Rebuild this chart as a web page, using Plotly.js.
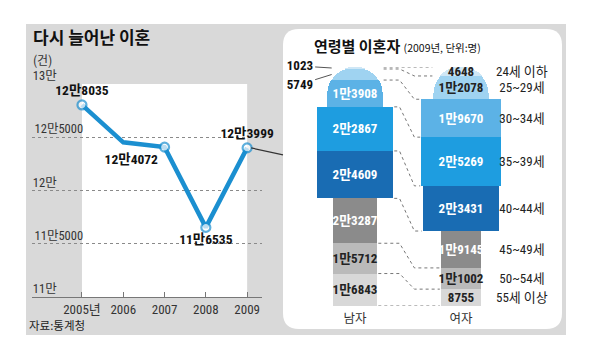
<!DOCTYPE html>
<html>
<head>
<meta charset="utf-8">
<script src="https://cdn.plot.ly/plotly-3.0.1.min.js"></script>
<style>
html,body{margin:0;padding:0;background:#fff;}
#chart{width:594px;height:359px;}
#chart text{font-stretch:75%;}
</style>
</head>
<body>
<div id="chart"></div>
<script>
// ---- data ----
const years = [2005, 2006, 2007, 2008, 2009];
const yearLabels = ['2005년', '2006', '2007', '2008', '2009'];
const divorces = [128035, 124524, 124072, 116535, 123999];
const labelledPoints = [true, false, true, true, true];
const yTickVals = [110000, 115000, 120000, 125000, 130000];
const yTickText = ['11만', '11만5000', '12만', '12만5000', '13만'];

const ageGroups = ['24세 이하', '25~29세', '30~34세', '35~39세', '40~44세', '45~49세', '50~54세', '55세 이상'];
const male   = [1023, 5749, 13908, 22867, 24609, 23287, 15712, 16843];
const female = [4648, 12078, 19670, 25269, 23431, 19145, 11002, 8755];
const sexes = ['남자', '여자'];

// ---- styles ----
const W = 594, H = 359;
const px = x => x / W, py = y => 1 - y / H;
const NARROW = 'Roboto, "Noto Sans CJK KR", sans-serif';
const KR = '"Noto Sans CJK KR", "Noto Sans", sans-serif';
const blue = '#1b8fd0';
const groupColors = ['#cfe7f6', '#9fd3f1', '#5cb2e6', '#1e9de0', '#196cb3', '#8b8b8b', '#bababa', '#d8d8d8'];
const groupText   = ['#222', '#222', '#fff', '#fff', '#fff', '#fff', '#222', '#222'];
const maleW   = [0.52, 0.52, 0.52, 0.72, 0.72, 0.42, 0.42, 0.42];
const femaleW = [0.52, 0.52, 0.75, 0.75, 0.72, 0.38, 0.38, 0.38];
const maleOutside = [true, true, false, false, false, false, false, false];

const fmt = v => (v >= 10000 ? Math.floor(v / 10000) + '만' + (v % 10000) : String(v));

// ---- left line chart ----
const traces = [];
traces.push({
  type: 'scatter', mode: 'lines+markers+text', x: years, y: divorces,
  xaxis: 'x', yaxis: 'y', cliponaxis: false, hoverinfo: 'none',
  line: {color: blue, width: 4.5},
  marker: {size: labelledPoints.map(b => b ? 9 : 0), color: '#fff', line: {color: blue, width: 2.2}},
  text: divorces.map((v, i) => labelledPoints[i] ? fmt(v) : ''),
  textposition: ['top center', 'top center', 'bottom left', 'bottom center', 'top center'],
  textfont: {family: NARROW, size: 13.5, color: '#111', weight: 'bold'}
});

// ---- right stacked figures ----
const totalM = male.reduce((a, b) => a + b, 0);
const totalF = female.reduce((a, b) => a + b, 0);
for (let g = ageGroups.length - 1; g >= 0; g--) {
  traces.push({
    type: 'bar', x: [0, 1], y: [male[g], female[g]], width: [maleW[g], femaleW[g]],
    xaxis: 'x2', yaxis: 'y2', name: ageGroups[g], hoverinfo: 'none',
    marker: {color: groupColors[g], line: {width: 0}, cornerradius: g === ageGroups.length - 1 ? 26 : undefined},
    text: [maleOutside[g] ? '' : fmt(male[g]), fmt(female[g])],
    textposition: 'inside', insidetextanchor: 'middle', textangle: 0, constraintext: 'none',
    insidetextfont: {family: NARROW, size: 13, color: groupText[g], weight: 'bold'}
  });
}

// cumulative boundaries from top
const cumM = [totalM], cumF = [totalF];
for (let g = 0; g < ageGroups.length; g++) {
  cumM.push(cumM[g] - male[g]);
  cumF.push(cumF[g] - female[g]);
}
const lx = [], ly = [];
for (let i = 0; i <= ageGroups.length; i++) {
  const wm = Math.max(maleW[Math.max(i - 1, 0)], maleW[Math.min(i, 7)]);
  const wf = Math.max(femaleW[Math.max(i - 1, 0)], femaleW[Math.min(i, 7)]);
  lx.push(wm / 2 + 0.01, 0.42, 0.56, 1 - wf / 2 - 0.01, null);
  ly.push(cumM[i], cumM[i], cumF[i], cumF[i], null);
}
traces.push({type: 'scatter', mode: 'lines', x: lx, y: ly, xaxis: 'x2', yaxis: 'y2',
  hoverinfo: 'none', line: {color: '#777', width: 1, dash: 'dot'}});

// ---- annotations ----
const ann = [];
ann.push({xref: 'paper', yref: 'paper', x: px(31), y: py(36), xanchor: 'left', yanchor: 'middle', showarrow: false,
  text: '<b>다시 늘어난 이혼</b>', font: {family: KR, size: 17, color: '#111'}});
ann.push({xref: 'paper', yref: 'paper', x: px(31), y: py(61), xanchor: 'left', yanchor: 'middle', showarrow: false,
  text: '(건)', font: {family: NARROW, size: 12, color: '#333'}});
ann.push({xref: 'paper', yref: 'paper', x: px(27), y: py(325), xanchor: 'left', yanchor: 'middle', showarrow: false,
  text: '자료:통계청', font: {family: KR, size: 11.5, color: '#222'}});
ann.push({xref: 'paper', yref: 'paper', x: px(312), y: py(45), xanchor: 'left', yanchor: 'middle', showarrow: false,
  text: '<b>연령별 이혼자</b> <span style="font-size:10.5px">(2009년, 단위:명)</span>',
  font: {family: KR, size: 15, color: '#111'}});
// y tick labels above gridlines
for (let i = 0; i < yTickVals.length; i++) {
  ann.push({xref: 'paper', yref: 'y', x: px(31), y: yTickVals[i], xanchor: 'left', yanchor: 'bottom',
    showarrow: false, text: yTickText[i], font: {family: NARROW, size: 12.5, color: '#333'}, borderpad: 0});
}
// age labels at female segment midpoints
for (let g = 0; g < ageGroups.length; g++) {
  ann.push({xref: 'x2', yref: 'y2', x: 1.575, y: (cumF[g] + cumF[g + 1]) / 2, showarrow: false,
    xanchor: 'center', yanchor: 'middle', text: ageGroups[g], font: {family: NARROW, size: 13, color: '#222'}});
}
// outside male labels with leader lines
const offY = [-2, 10];
for (let g = 0; g < ageGroups.length; g++) {
  if (!maleOutside[g]) continue;
  ann.push({xref: 'x2', yref: 'y2', x: -maleW[g] / 2 + 0.04, y: (cumM[g] + cumM[g + 1]) / 2,
    showarrow: true, arrowhead: 0, arrowwidth: 1, arrowcolor: '#555', ax: -32, ay: offY[g] || 0, borderpad: 0,
    text: '<b>' + fmt(male[g]) + '</b>', font: {family: NARROW, size: 13, color: '#111'}});
}

// connector from last point to right panel
const xr = [2003.79, 2009.36], yr = [110000, 130000];
const xd = [px(32), px(262)], yd = [py(297), py(84)];
const toPX = v => xd[0] + (v - xr[0]) / (xr[1] - xr[0]) * (xd[1] - xd[0]);
const toPY = v => yd[0] + (v - yr[0]) / (yr[1] - yr[0]) * (yd[1] - yd[0]);

// rounded panel path
function rrect(x0, y0, x1, y1, r) {
  const X0 = px(x0), X1 = px(x1), Y0 = py(y1), Y1 = py(y0), rx = r / W, ry = r / H;
  return `M${X0 + rx},${Y1} L${X1 - rx},${Y1} Q${X1},${Y1} ${X1},${Y1 - ry} L${X1},${Y0 + ry} Q${X1},${Y0} ${X1 - rx},${Y0} ` +
         `L${X0 + rx},${Y0} Q${X0},${Y0} ${X0},${Y0 + ry} L${X0},${Y1 - ry} Q${X0},${Y1} ${X0 + rx},${Y1} Z`;
}

const shapes = [
  {type: 'rect', xref: 'paper', yref: 'paper', x0: px(26), x1: px(566), y0: py(335), y1: py(24),
   fillcolor: '#d9d9d9', line: {width: 0}, layer: 'below'},
  {type: 'path', xref: 'paper', yref: 'paper', path: rrect(283, 29, 562, 329, 16),
   fillcolor: '#ffffff', line: {width: 0}, layer: 'below'},
  {type: 'rect', xref: 'x', yref: 'y', x0: years[0], x1: years[years.length - 1], y0: yr[0], y1: yr[1],
   fillcolor: '#ffffff', line: {width: 0}, layer: 'below'},
  {type: 'line', xref: 'paper', yref: 'paper', x0: toPX(years[4]) + 4 / W, y0: toPY(divorces[4]),
   x1: px(283), y1: toPY(divorces[4]) - 7 / H, line: {color: '#333', width: 1.2}}
];

const layout = {
  width: W, height: H, margin: {l: 0, r: 0, t: 0, b: 0},
  paper_bgcolor: '#ffffff', plot_bgcolor: 'rgba(0,0,0,0)',
  showlegend: false, barmode: 'stack',
  uniformtext: {minsize: 13, mode: 'show'},
  xaxis: {domain: xd, range: xr, tickvals: years, ticktext: yearLabels,
    showline: true, linecolor: '#777', linewidth: 1, ticks: 'inside', ticklen: 5, tickcolor: '#777',
    tickfont: {family: NARROW, size: 13, color: '#333'}, showgrid: false, zeroline: false, fixedrange: true},
  yaxis: {domain: yd, range: yr, tickvals: yTickVals, showticklabels: false,
    ticks: '', showline: false, showgrid: true, gridcolor: '#8a8a8a', griddash: 'dot', gridwidth: 1,
    zeroline: false, fixedrange: true},
  xaxis2: {anchor: 'y2', domain: [px(283), px(563)], range: [-0.679, 1.962], tickvals: [0, 1], ticktext: sexes,
    showline: false, showgrid: false, zeroline: false, ticks: '', ticklabelstandoff: 3,
    tickfont: {family: KR, size: 12.5, color: '#333'}, fixedrange: true},
  yaxis2: {anchor: 'x2', domain: [py(306), py(67)], range: [0, Math.max(totalM, totalF)], visible: false, fixedrange: true},
  shapes: shapes, annotations: ann
};

Plotly.newPlot('chart', traces, layout, {displayModeBar: false, staticPlot: true});
</script>
</body>
</html>
